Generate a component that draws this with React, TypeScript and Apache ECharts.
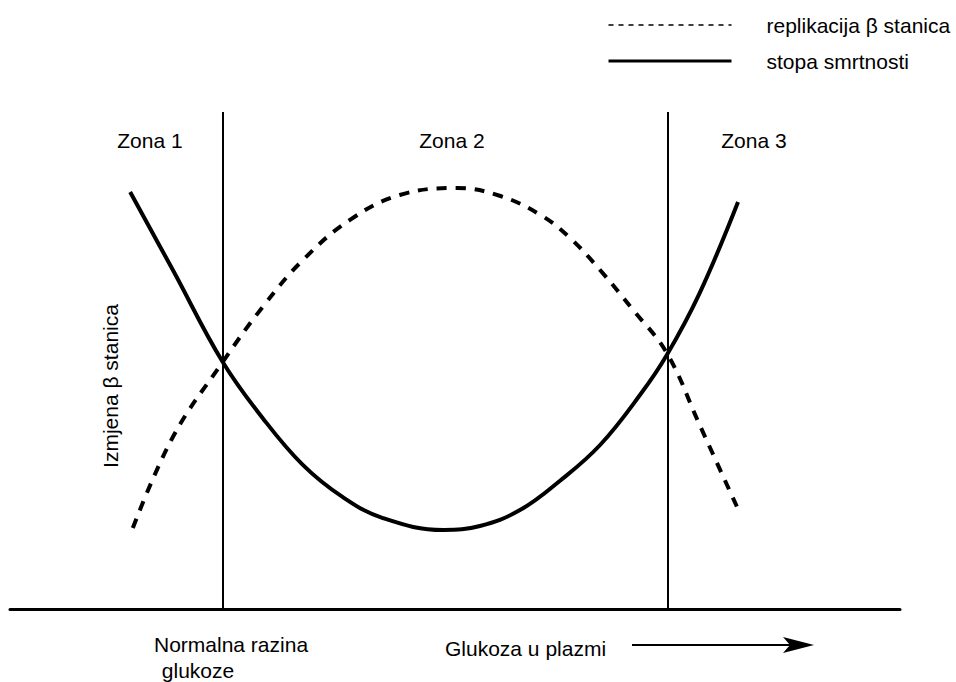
import React, { useEffect, useRef } from "react";
import * as echarts from "echarts";

const FONT = '"Liberation Sans", Arial, Helvetica, sans-serif';

// Series names (legend)
const replicationName = "replikacija β stanica";
const mortalityName = "stopa smrtnosti";

// stopa smrtnosti (solid U-shaped curve)
const mortalityX = [13.5, 18.3, 23.9, 28.4, 32.9, 37.4, 41.9, 48.7, 52.8, 57.3, 61.8, 66.3, 70.8, 73.8, 77.5, 81.8];
const mortalityY = [83.9, 68.2, 49.7, 38.4, 29.0, 22.5, 18.3, 15.9, 16.7, 19.9, 25.8, 33.0, 43.1, 51.1, 63.6, 81.9];

// replikacija β stanica (dashed inverted-U curve)
const replicationX = [13.8, 18.3, 23.9, 28.4, 32.9, 38.2, 43.8, 50.2, 55.1, 59.6, 62.9, 66.3, 70.0, 73.8, 77.5, 81.7];
const replicationY = [16.3, 34.6, 49.7, 60.8, 70.2, 78.3, 83.3, 84.7, 83.1, 79.3, 74.7, 68.2, 60.2, 51.5, 37.0, 20.5];

// Zone boundaries (vertical lines)
const zoneBoundaries = [23.9, 73.9];

// Texts
const zoneLabels = ["Zona 1", "Zona 2", "Zona 3"];
const yAxisTitle = "Izmjena β stanica";
const normalLabel = ["Normalna razina", " glukoze"];
const xAxisTitle = "Glukoza u plazmi";

const zip = (xs: number[], ys: number[]) => xs.map((x, i) => [x, ys[i]]);

export default function App() {
  const ref = useRef<HTMLDivElement>(null);

  useEffect(() => {
    const chart = echarts.init(ref.current!, null, { renderer: "svg" });
    const textStyle = (text: string, x: number, y: number, align = "left") => ({
      text,
      x,
      y,
      fill: "#000",
      fontSize: 21,
      fontFamily: FONT,
      align,
      verticalAlign: "middle",
    });
    chart.setOption({
      animation: false,
      backgroundColor: "#fff",
      grid: { left: 10, right: 56, top: 112, bottom: 73, containLabel: false },
      legend: {
        orient: "vertical",
        left: 607,
        top: 14,
        padding: 0,
        itemWidth: 123,
        itemHeight: 22,
        itemGap: 14,
        selectedMode: false,
        itemStyle: { opacity: 0, color: "rgba(0,0,0,0)", borderWidth: 0 },
        textStyle: {
          fontSize: 21,
          fontFamily: FONT,
          color: "#000",
          lineHeight: 22,
          padding: [0, 0, 0, 30],
        },
        data: [
          { name: replicationName, lineStyle: { width: 1.3, type: [5, 5], color: "#000" } },
          { name: mortalityName, lineStyle: { width: 3, type: "solid", color: "#000" } },
        ],
      },
      xAxis: {
        type: "value",
        min: 0,
        max: 100,
        axisLine: { show: true, lineStyle: { color: "#000", width: 3 } },
        axisTick: { show: false },
        axisLabel: { show: false },
        splitLine: { show: false },
      },
      yAxis: {
        type: "value",
        min: 0,
        max: 100,
        show: false,
        splitLine: { show: false },
      },
      series: [
        {
          name: replicationName,
          type: "line",
          data: zip(replicationX, replicationY),
          smooth: 0.4,
          symbol: "none",
          silent: true,
          itemStyle: { color: "#000" },
          lineStyle: { color: "#000", width: 4, type: [10, 9], cap: "butt" },
        },
        {
          name: mortalityName,
          type: "line",
          data: zip(mortalityX, mortalityY),
          smooth: 0.4,
          symbol: "none",
          silent: true,
          itemStyle: { color: "#000" },
          lineStyle: { color: "#000", width: 4, type: "solid" },
          markLine: {
            silent: true,
            symbol: ["none", "none"],
            label: { show: false },
            lineStyle: { color: "#000", width: 2, type: "solid" },
            data: zoneBoundaries.map((v) => ({ xAxis: v })),
          },
        },
      ],
      graphic: [
        { type: "text", style: textStyle(zoneLabels[0], 150, 140, "center") },
        { type: "text", style: textStyle(zoneLabels[1], 452, 140, "center") },
        { type: "text", style: textStyle(zoneLabels[2], 754, 140, "center") },
        {
          type: "text",
          x: 110,
          y: 386,
          rotation: Math.PI / 2,
          style: textStyle(yAxisTitle, 0, 0, "center"),
        },
        { type: "text", style: textStyle(normalLabel[0], 154, 644) },
        { type: "text", style: textStyle(normalLabel[1], 156, 670) },
        { type: "text", style: textStyle(xAxisTitle, 445, 648) },
        {
          type: "line",
          shape: { x1: 632, y1: 645, x2: 796, y2: 645 },
          style: { stroke: "#000", lineWidth: 2 },
        },
        {
          type: "polygon",
          shape: { points: [[783, 637], [814, 645], [783, 653], [790, 645]] },
          style: { fill: "#000" },
        },
      ],
    });
    return () => chart.dispose();
  }, []);

  return (
    <div
      ref={ref}
      style={{ position: "absolute", left: 0, top: 0, width: 956, height: 682, background: "#fff" }}
    />
  );
}
